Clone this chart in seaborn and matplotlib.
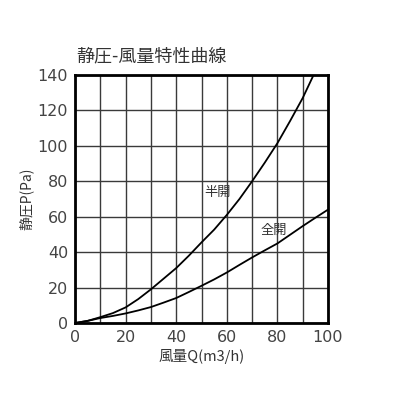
import matplotlib
matplotlib.use('Agg')
import matplotlib.pyplot as plt
import seaborn as sns
import pandas as pd

# 風量 Q (m3/h) and 静圧 P (Pa)
q_half = [0, 5, 10, 15, 20, 25, 30, 35, 40, 45, 50, 55, 60, 65, 70, 75, 80, 85, 90, 94.3]
p_half = [0, 1.2, 3.3, 5.6, 8.8, 13.5, 19, 25, 31, 38, 45.5, 52.7, 61, 70, 80, 90.5, 101.5, 114, 127, 140]
q_full = [0, 5, 10, 15, 20, 25, 30, 35, 40, 45, 50, 55, 60, 65, 70, 75, 80, 85, 90, 95, 100]
p_full = [0, 1.2, 2.8, 4, 5.4, 7.1, 9, 11.5, 14.1, 17.5, 21, 24.6, 28.5, 32.8, 37, 41, 44.9, 49.8, 54.7, 59.4, 64]

x_ticks = [0, 20, 40, 60, 80, 100]
y_ticks = [0, 20, 40, 60, 80, 100, 120, 140]

sns.set_style('white')
plt.rcParams['font.family'] = ['Noto Sans CJK JP', 'DejaVu Sans']

df = pd.concat([
    pd.DataFrame({'Q': q_half, 'P': p_half, 'k': '半開'}),
    pd.DataFrame({'Q': q_full, 'P': p_full, 'k': '全開'}),
])

fig = plt.figure(figsize=(4, 4), dpi=100)
ax = fig.add_axes([0.1875, 0.1925, 0.6325, 0.62])

sns.lineplot(data=df, x='Q', y='P', units='k', estimator=None, color='black',
             lw=1.3, ax=ax, legend=False)

ax.set_xlim(0, 100)
ax.set_ylim(0, 140)
ax.set_xticks(x_ticks, labels=[str(v) for v in x_ticks],
              fontfamily='DejaVu Sans', fontsize=11.5)
ax.set_yticks(y_ticks, labels=[str(v) for v in y_ticks],
              fontfamily='DejaVu Sans', fontsize=11.5)
ax.set_xticks(range(0, 101, 10), minor=True)
ax.grid(True, which='both', color='#3a3a3a', lw=1.0)
ax.tick_params(length=0, colors='#444444', pad=5)
for s in ax.spines.values():
    s.set_linewidth(2)
    s.set_color('black')

ax.set_xlabel('風量Q(m3/h)', fontsize=10.5, color='#333333', labelpad=3)
ax.set_ylabel('静圧P(Pa)', fontsize=10, color='#333333', labelpad=3)
fig.text(0.19, 0.858, '静圧-風量特性曲線', fontsize=13, color='#333333', va='center')

ax.text(56.5, 73.5, '半開', fontsize=9.5, ha='center', va='center', color='#333333')
ax.text(78.5, 52, '全開', fontsize=9.5, ha='center', va='center', color='#333333')

fig.savefig('out.png', dpi=100, facecolor='white')
